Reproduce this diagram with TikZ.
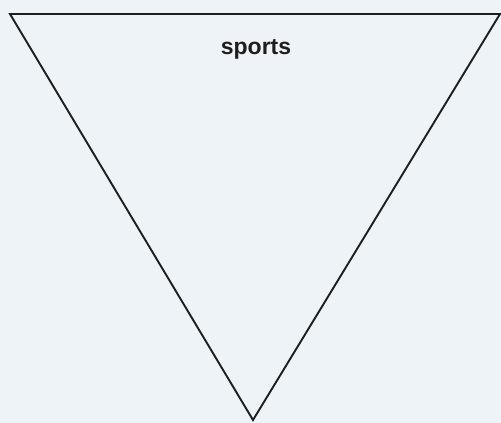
\documentclass[tikz,border=0pt]{standalone}
\usepackage{fontspec}
\setmainfont{Liberation Sans}
\definecolor{paper}{HTML}{EDF3F6}
\definecolor{ink}{HTML}{1E1E1E}
\begin{document}
\begin{tikzpicture}[x=1pt,y=1pt,
  edge/.style={draw=ink, line width=1.9pt, line join=miter},
  lbl/.style={font=\fontsize{23}{26}\selectfont\bfseries, text=ink, inner sep=0pt}]
\fill[paper] (0,0) rectangle (501,423);
\useasboundingbox (0,0) rectangle (501,423);
\coordinate (tl) at (10,409);
\coordinate (tr) at (500,409);
\coordinate (ap) at (253,3);
\draw[edge] (tl) -- (tr) -- (ap) -- cycle;
\node[lbl, anchor=base] (t) at (256,368) {sports};
\end{tikzpicture}
\end{document}
